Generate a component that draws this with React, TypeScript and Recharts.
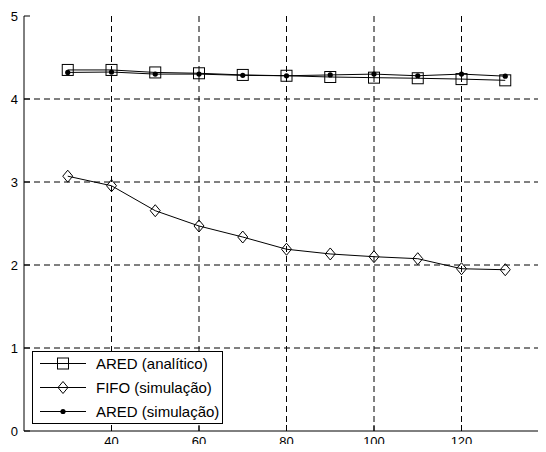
import { CartesianGrid, Line, LineChart, XAxis, YAxis } from "recharts"

const carga = [30, 40, 50, 60, 70, 80, 90, 100, 110, 120, 130]
const aredAnalitico = [4.35, 4.35, 4.32, 4.31, 4.29, 4.28, 4.265, 4.257, 4.25, 4.24, 4.225]
const fifoSimulacao = [3.07, 2.955, 2.654, 2.47, 2.337, 2.19, 2.133, 2.1, 2.076, 1.955, 1.943]
const aredSimulacao = [4.32, 4.325, 4.3, 4.3, 4.285, 4.28, 4.29, 4.3, 4.28, 4.3, 4.275]

const xTicks = [40, 60, 80, 100, 120]
const yTicks = [0, 1, 2, 3, 4, 5]

const data = carga.map((c, i) => ({
  carga: c,
  analitico: aredAnalitico[i],
  fifo: fifoSimulacao[i],
  aredSim: aredSimulacao[i],
}))

const font = "Arial, 'Liberation Sans', sans-serif"

type Marker = "square" | "diamond" | "dot"

function drawMarker(kind: Marker, cx: number, cy: number, key?: string | number) {
  if (kind === "square") {
    return <rect key={key} x={cx - 5.5} y={cy - 5.5} width={11} height={11} fill="none" stroke="#000" strokeWidth={1} />
  }
  if (kind === "diamond") {
    return (
      <path
        key={key}
        d={`M${cx},${cy - 6} L${cx + 5},${cy} L${cx},${cy + 6} L${cx - 5},${cy} Z`}
        fill="none"
        stroke="#000"
        strokeWidth={1}
      />
    )
  }
  return <circle key={key} cx={cx} cy={cy} r={2.6} fill="#000" stroke="none" />
}

const markerDot = (kind: Marker) => (props: any) => drawMarker(kind, props.cx, props.cy, props.index)

const legendItems: { label: string; marker: Marker }[] = [
  { label: "ARED (analítico)", marker: "square" },
  { label: "FIFO (simulação)", marker: "diamond" },
  { label: "ARED (simulação)", marker: "dot" },
]

// legend box drawn over the plot, like the matlab one in the lower left corner
function LegendBox() {
  return (
    <svg width={191} height={73} style={{ position: "absolute", left: 32, top: 351, display: "block" }}>
      <rect x={0.5} y={0.5} width={190} height={72} fill="#fff" stroke="#000" strokeWidth={1} />
      {legendItems.map((item, i) => {
        const cy = 12.5 + i * 24
        return (
          <g key={item.label}>
            <line x1={8} x2={54} y1={cy} y2={cy} stroke="#000" strokeWidth={1} />
            {drawMarker(item.marker, 31, cy)}
            <text x={64} y={cy} dy="0.36em" fontSize={15} fontFamily={font} fill="#000">
              {item.label}
            </text>
          </g>
        )
      })}
    </svg>
  )
}

export default function App() {
  return (
    <div style={{ position: "relative", margin: -8, width: 546, height: 452, overflow: "hidden", background: "#fff" }}>
      <LineChart width={560} height={452} data={data} margin={{ top: 16, right: 11, bottom: 0, left: 0 }}>
        <CartesianGrid
          stroke="#000"
          strokeDasharray="6 4"
          horizontalValues={[1, 2, 3, 4]}
          verticalValues={xTicks}
        />
        <XAxis
          dataKey="carga"
          type="number"
          domain={[20, 140]}
          ticks={xTicks}
          height={21}
          stroke="#000"
          tickSize={-6}
          tickMargin={12}
          tick={{ fill: "#000", fontSize: 13, fontFamily: font }}
        />
        <XAxis
          xAxisId="top"
          orientation="top"
          dataKey="carga"
          type="number"
          domain={[20, 140]}
          ticks={xTicks}
          height={0}
          stroke="#000"
          tickSize={-6}
          tick={false}
        />
        <YAxis
          type="number"
          domain={[0, 5]}
          ticks={yTicks}
          width={24}
          stroke="#000"
          tickSize={-6}
          tickMargin={12}
          tick={{ fill: "#000", fontSize: 13, fontFamily: font }}
        />
        <Line
          type="linear"
          dataKey="analitico"
          name="ARED (analítico)"
          stroke="#000"
          strokeWidth={1}
          dot={markerDot("square")}
          activeDot={false}
          isAnimationActive={false}
        />
        <Line
          type="linear"
          dataKey="fifo"
          name="FIFO (simulação)"
          stroke="#000"
          strokeWidth={1}
          dot={markerDot("diamond")}
          activeDot={false}
          isAnimationActive={false}
        />
        <Line
          type="linear"
          dataKey="aredSim"
          name="ARED (simulação)"
          stroke="#000"
          strokeWidth={1}
          dot={markerDot("dot")}
          activeDot={false}
          isAnimationActive={false}
        />
      </LineChart>
      <LegendBox />
    </div>
  )
}
